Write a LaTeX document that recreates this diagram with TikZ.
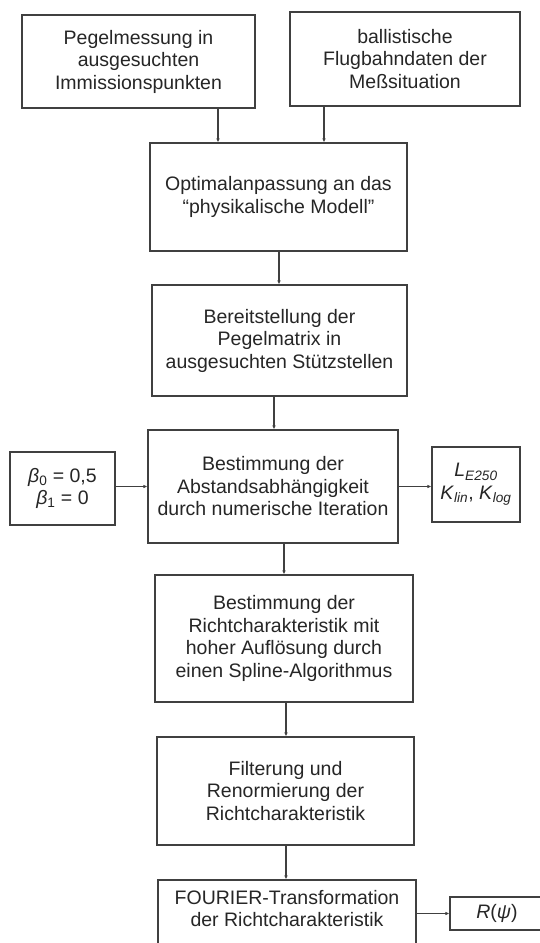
\documentclass[tikz,border=0pt]{standalone}
\usepackage{fontspec}
\setmainfont{Liberation Sans}
\usetikzlibrary{arrows.meta}
\begin{document}
\begin{tikzpicture}[x=1pt,y=-1pt,
  box/.style={draw=black!75, line width=1.1pt, rectangle, inner sep=0pt, align=center,
    font=\fontsize{19.5}{22.5}\selectfont, text=black!85},
  arr/.style={draw=black!75, line width=1.1pt, -{Latex[length=4pt,width=3.5pt]}}]
\useasboundingbox (0,0) rectangle (540,943);
\clip (0,0) rectangle (540,943);
\fill[white] (0,0) rectangle (540,943);

\node[box, minimum width=233pt, minimum height=93pt] (b1) at (138.5,61.5)
  {Pegelmessung in\\ausgesuchten\\Immissionspunkten};
\node[box, minimum width=230pt, minimum height=94pt] (b2) at (405,59)
  {ballistische\\Flugbahndaten der\\Meßsituation};
\node[box, minimum width=257pt, minimum height=108pt] (b3) at (278.5,197)
  {Optimalanpassung an das\\“physikalische Modell”};
\node[box, minimum width=255pt, minimum height=111pt] (b4) at (279.5,340.5)
  {Bereitstellung der\\Pegelmatrix in\\ausgesuchten Stützstellen};
\node[box, minimum width=250pt, minimum height=113pt] (b5) at (273,486.5)
  {Bestimmung der\\Abstandsabhängigkeit\\durch numerische Iteration};
\node[box, minimum width=105pt, minimum height=73pt] (beta) at (62.5,488.5)
  {\textit{β}\textsubscript{0} = 0,5\\\textit{β}\textsubscript{1} = 0};
\node[box, minimum width=88pt, minimum height=75pt] (lk) at (476,484.5)
  {\textit{L}\textsubscript{\textit{E250}}\\\textit{K}\textsubscript{\textit{lin}}, \textit{K}\textsubscript{\textit{log}}};
\node[box, minimum width=258pt, minimum height=127pt] (b6) at (284,638.5)
  {Bestimmung der\\Richtcharakteristik mit\\hoher Auflösung durch\\einen Spline-Algorithmus};
\node[box, minimum width=257pt, minimum height=108pt] (b7) at (285.5,791)
  {Filterung und\\Renormierung der\\Richtcharakteristik};
\node[box, minimum width=258pt, minimum height=84pt] (b8) at (287,922)
  {FOURIER-Transformation\\der Richtcharakteristik\\[5pt]};
\node[box, minimum width=116pt, minimum height=33pt] (r) at (508,913.5)
  {\hspace*{-22pt}\textit{R}(\textit{ψ})};

\coordinate (x1) at (218,0);
\coordinate (x2) at (324,0);
\coordinate (x3) at (279,0);
\coordinate (x4) at (274,0);
\coordinate (x5) at (284,0);
\coordinate (x6) at (286,0);

\draw[arr] (b1.south -| x1) -- (b3.north -| x1);
\draw[arr] (b2.south -| x2) -- (b3.north -| x2);
\draw[arr] (b3.south -| x3) -- (b4.north -| x3);
\draw[arr] (b4.south -| x4) -- (b5.north -| x4);
\draw[arr] (b5.south -| x5) -- (b6.north -| x5);
\draw[arr] (b6.south -| x6) -- (b7.north -| x6);
\draw[arr] (b7.south -| x6) -- (b8.north -| x6);
\draw[arr] (beta.east |- b5) -- (b5.west);
\draw[arr] (b5.east) -- (lk.west |- b5);
\draw[arr] (b8.east |- r) -- (r.west);
\end{tikzpicture}
\end{document}
